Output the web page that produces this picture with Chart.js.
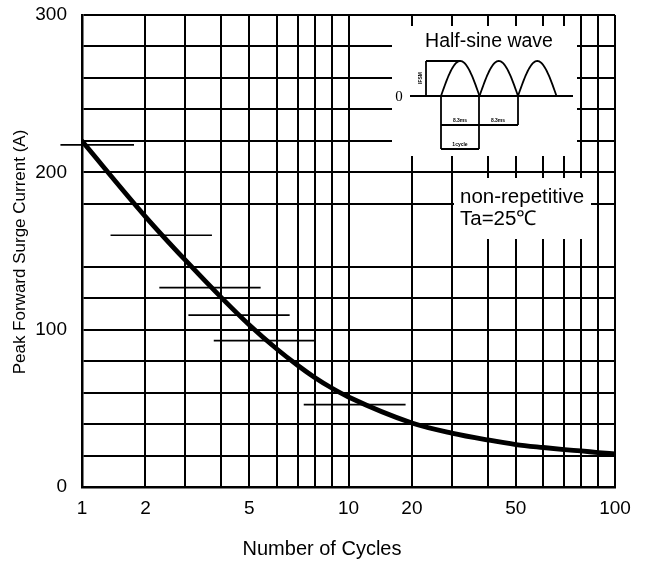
<!DOCTYPE html>
<html>
<head>
<meta charset="utf-8">
<script src="https://cdn.jsdelivr.net/npm/chart.js@4.4.1/dist/chart.umd.min.js"></script>
<style>
  body { margin: 0; background: #fff; }
  #wrap { width: 654px; height: 563px; }
</style>
</head>
<body>
<div id="wrap"><canvas id="myChart" width="654" height="563"></canvas></div>
<script>
// surge curve
let cycles = [1, 2, 3, 4, 5, 6, 7, 8, 9, 10, 20, 30, 40, 50, 60, 70, 80, 90, 100];
let surgeCurrent = [219.9, 171.9, 144.3, 120.4, 103.0, 87.7, 77.2, 69.6, 62.9, 57.2, 40.7, 34.3, 29.9, 27.0, 25.1, 23.8, 22.9, 21.9, 21.0];

// grid + labels
let xGridValues = [1, 2, 3, 4, 5, 6, 7, 8, 9, 10, 20, 30, 40, 50, 60, 70, 80, 90, 100];
let xTickLabels = ['1', '2', '5', '10', '20', '50', '100'];
let yTickLabels = ['0', '100', '200', '300'];
let missingGridY = [160];   // this rule is only printed as a short piece on the sheet

// the short stray rules printed on the sheet
let strayY = [217.4, 160, 126.7, 109.3, 93.0, 52.3];
let strayFrom = [0.872, 1.45, 2.35, 3.09, 3.79, 7.35];
let strayTo = [1.82, 3.74, 5.41, 6.61, 8.0, 19.0];

// the sheet's log paper is not a true log: where 2..9 sit inside a decade
const decadePos = [0, 0.238, 0.387, 0.523, 0.628, 0.731, 0.81, 0.873, 0.937, 1];

class CyclesScale extends Chart.LogarithmicScale {
    decades(v) {
        let e = Math.floor(Math.log10(v) + 1e-9);
        let m = v / Math.pow(10, e);
        let i = Math.max(1, Math.min(Math.floor(m), 9));
        return e + decadePos[i - 1] + (decadePos[i] - decadePos[i - 1]) * (m - i);
    }
    getPixelForValue(value) {
        if (value === undefined || value === null || isNaN(value) || value <= 0) return NaN;
        let a = this.decades(this.min), b = this.decades(this.max);
        return this.getPixelForDecimal((this.decades(value) - a) / (b - a));
    }
}
CyclesScale.id = 'cycles';
CyclesScale.defaults = Chart.LogarithmicScale.defaults;
Chart.register(CyclesScale);

Chart.defaults.font.family = "'Liberation Sans', Arial, sans-serif";
Chart.defaults.font.size = 19;
Chart.defaults.color = '#000';

let datasets = [{
    data: cycles.map((c, i) => ({ x: c, y: surgeCurrent[i] })),
    borderColor: '#000',
    borderWidth: 4.8,
    pointRadius: 0,
    cubicInterpolationMode: 'monotone',
    borderCapStyle: 'round'
}];
strayY.forEach((y, i) => {
    datasets.push({
        data: [{ x: strayFrom[i], y: y }, { x: strayTo[i], y: y }],
        borderColor: '#000',
        borderWidth: 1.7,
        pointRadius: 0,
        clip: false
    });
});

function line(ctx, x1, y1, x2, y2) {
    ctx.beginPath();
    ctx.moveTo(x1, y1);
    ctx.lineTo(x2, y2);
    ctx.stroke();
}

const paperPlugin = {
    id: 'paper',
    afterDatasetsDraw(chart) {
        let ctx = chart.ctx;
        ctx.save();
        // white patches over the grid
        ctx.fillStyle = '#fff';
        ctx.fillRect(392, 26, 185, 130);
        ctx.fillRect(454, 178, 137, 61);

        ctx.fillStyle = '#000';
        ctx.strokeStyle = '#000';
        ctx.textBaseline = 'middle';
        ctx.font = "19.5px 'Liberation Sans', Arial, sans-serif";
        ctx.textAlign = 'center';
        ctx.fillText('Half-sine wave', 489, 42);

        ctx.textAlign = 'left';
        ctx.font = "20.5px 'Liberation Sans', Arial, sans-serif";
        ctx.fillText('non-repetitive', 460, 197);
        ctx.fillText('Ta=25\u2103', 460, 219);

        // inset wave
        ctx.font = "15px 'Liberation Serif', serif";
        ctx.textAlign = 'center';
        ctx.fillText('0', 399, 97);

        ctx.lineWidth = 1.8;
        line(ctx, 410, 96, 573, 96);
        let w = 38.5, h = 35;
        for (let k = 0; k < 3; k++) {
            let x0 = 441 + k * w;
            ctx.beginPath();
            for (let t = 0; t <= 40; t++) {
                let px = x0 + w * t / 40;
                let py = 96 - h * Math.sin(Math.PI * t / 40);
                if (t === 0) ctx.moveTo(px, py); else ctx.lineTo(px, py);
            }
            ctx.stroke();
        }
        line(ctx, 426, 61, 426, 96);
        line(ctx, 426, 61, 460, 61);
        line(ctx, 441, 96, 441, 149);
        line(ctx, 479, 96, 479, 149);
        line(ctx, 518, 96, 518, 125);
        line(ctx, 441, 125, 518, 125);
        line(ctx, 441, 149, 479, 149);

        ctx.font = "bold 5px 'Liberation Sans', Arial, sans-serif";
        ctx.fillText('8.3ms', 460, 121);
        ctx.fillText('8.3ms', 498, 121);
        ctx.fillText('1cycle', 460, 145);
        ctx.save();
        ctx.translate(421, 78);
        ctx.rotate(-Math.PI / 2);
        ctx.fillText('IFSM', 0, 0);
        ctx.restore();

        ctx.restore();
    },
    afterDraw(chart) {
        let ctx = chart.ctx;
        ctx.save();
        ctx.fillStyle = '#000';
        ctx.textAlign = 'center';
        ctx.textBaseline = 'middle';
        ctx.font = "20px 'Liberation Sans', Arial, sans-serif";
        ctx.fillText('Number of Cycles', 322, 549);
        ctx.font = "17px 'Liberation Sans', Arial, sans-serif";
        ctx.translate(20, 252);
        ctx.rotate(-Math.PI / 2);
        ctx.fillText('Peak Forward Surge Current (A)', 0, 0);
        ctx.restore();
    }
};

let ctx = document.getElementById('myChart').getContext('2d');
let myChart = new Chart(ctx, {
    type: 'line',
    data: { datasets: datasets },
    plugins: [paperPlugin],
    options: {
        responsive: false,
        animation: false,
        events: [],
        layout: { padding: { top: 15, right: 39, left: 0, bottom: 0 } },
        plugins: { legend: { display: false }, tooltip: { enabled: false } },
        scales: {
            x: {
                type: 'cycles',
                min: 1,
                max: 100,
                afterBuildTicks: (scale) => { scale.ticks = xGridValues.map(v => ({ value: v })); },
                afterFit: (scale) => { scale.height = 76; scale.paddingLeft = 0; scale.paddingRight = 0; },
                ticks: {
                    autoSkip: false,
                    maxRotation: 0,
                    padding: 10,
                    callback: (value) => xTickLabels.includes(String(value)) ? String(value) : ''
                },
                grid: { color: '#000', lineWidth: 2, drawTicks: false },
                border: { color: '#000', width: 2.5 }
            },
            y: {
                min: 0,
                max: 300,
                afterFit: (scale) => { scale.width = 82; scale.paddingTop = 0; scale.paddingBottom = 0; },
                ticks: {
                    stepSize: 20,
                    autoSkip: false,
                    padding: 15,
                    callback: (value) => yTickLabels.includes(String(value)) ? String(value) : ''
                },
                grid: {
                    color: (c) => (c.tick && missingGridY.includes(c.tick.value)) ? 'rgba(0,0,0,0)' : '#000',
                    lineWidth: 2,
                    drawTicks: false
                },
                border: { color: '#000', width: 2.5 }
            }
        }
    }
});
</script>
</body>
</html>
